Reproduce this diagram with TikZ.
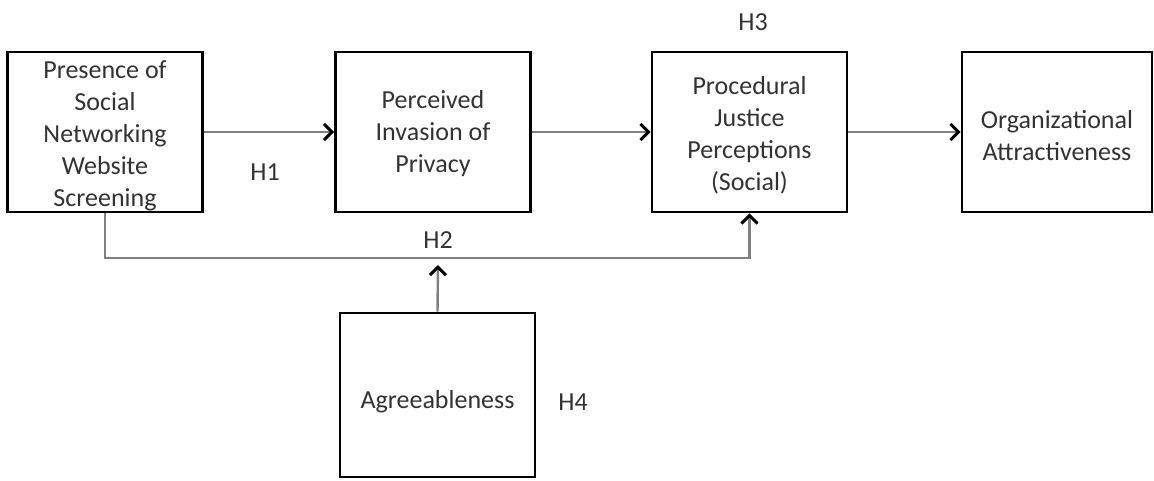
\documentclass[tikz,border=0pt]{standalone}
\usepackage{fontspec}
\setmainfont{Carlito}
\usetikzlibrary{arrows.meta}
\definecolor{linkgray}{RGB}{128,128,128}
\definecolor{inkgray}{RGB}{50,50,50}
\begin{document}
\begin{tikzpicture}[x=1pt,y=-1pt,
  box/.style={draw=black,line width=2.8pt,minimum width=195pt,minimum height=160pt,inner sep=0pt},
  txt/.style={align=center,inner sep=0pt,text=inkgray,font=\fontsize{26}{32}\selectfont},
  hlabel/.style={inner sep=0pt,text=inkgray,font=\fontsize{26}{32}\selectfont},
  link/.style={draw=linkgray,line width=2.4pt},
  linkarrow/.style={link,-{Straight Barb[length=8pt,width=16pt,line width=3pt,color=black]}}]
  \useasboundingbox (0,0) rectangle (1154,480);

  % boxes
  \node[box] (pres) at (105,132) {};
  \node[box] (priv) at (433,132) {};
  \node[box] (proc) at (749.5,132) {};
  \node[box,minimum width=190pt] (attr) at (1057,132) {};
  \node[box,minimum height=164pt] (agree) at (437.5,395) {};

  % box texts
  \node[txt] (presT) at (105,136) {Presence of\\Social\\Networking\\Website\\Screening};
  \node[txt] (privT) at (433,134) {Perceived\\Invasion of\\Privacy};
  \node[txt] (procT) at (749.5,135.5) {Procedural\\Justice\\Perceptions\\(Social)};
  \node[txt] (attrT) at (1057,136) {Organizational\\Attractiveness};
  \node[txt] (agreeT) at (437.5,402) {Agreeableness};

  % hypothesis labels
  \node[hlabel] (h1) at (265,172) {H1};
  \node[hlabel] (h2) at (438,240) {H2};
  \node[hlabel] (h3) at (753,22) {H3};
  \node[hlabel] (h4) at (573,402) {H4};

  % main chain
  \draw[linkarrow] (pres.east) -- (priv.west);
  \draw[linkarrow] (priv.east) -- (proc.west);
  \draw[linkarrow] (proc.east) -- (attr.west);

  % direct path and moderator
  \coordinate (bend) at (105,258);
  \coordinate (mod) at (438,265);
  \draw[linkarrow] (pres.south) -- (bend) -| (proc.south);
  \draw[linkarrow] (agree.north) -- (mod);
\end{tikzpicture}
\end{document}
